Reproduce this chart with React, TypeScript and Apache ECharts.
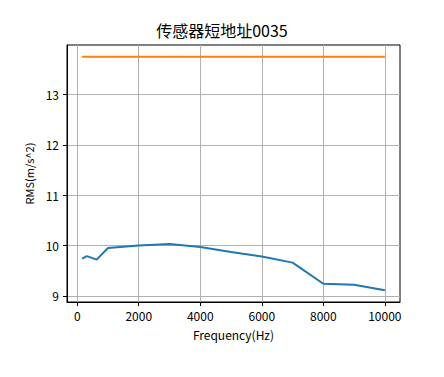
import React, { useEffect, useRef } from "react";
import * as echarts from "echarts";

const titleText = "传感器短地址0035";
const xAxisName = "Frequency(Hz)";
const yAxisName = "RMS(m/s^2)";

const frequencies = [160, 315, 630, 1000, 2000, 3000, 4000, 5000, 6000, 7000, 8000, 9000, 10000];
const rmsValues = [9.74, 9.79, 9.72, 9.95, 10.0, 10.03, 9.97, 9.87, 9.78, 9.66, 9.24, 9.22, 9.11];
const limitValues = [13.75, 13.75, 13.75, 13.75, 13.75, 13.75, 13.75, 13.75, 13.75, 13.75, 13.75, 13.75, 13.75];

const xTicks = [0, 2000, 4000, 6000, 8000, 10000];
const yTicks = [9, 10, 11, 12, 13];

const FONT = "'Noto Sans CJK SC', sans-serif";

export default function App() {
  const ref = useRef<HTMLDivElement>(null);

  useEffect(() => {
    if (!ref.current) return;
    const chart = echarts.init(ref.current, undefined, { renderer: "svg" });

    const xmin = -332;
    const xmax = 10492;
    const ymin = 8.878;
    const ymax = 13.982;

    chart.setOption({
      animation: false,
      backgroundColor: "#ffffff",
      title: {
        text: titleText,
        left: "center",
        top: 22,
        padding: 0,
        textStyle: { fontFamily: FONT, fontSize: 16, fontWeight: "normal", color: "#000" },
      },
      grid: {
        left: 67,
        right: 44,
        top: 45,
        bottom: 75,
        show: true,
        borderColor: "#000",
        borderWidth: 1,
        backgroundColor: "transparent",
      },
      xAxis: {
        type: "value",
        min: xmin,
        max: xmax,
        name: xAxisName,
        nameLocation: "middle",
        nameGap: 26,
        nameTextStyle: { fontFamily: FONT, fontSize: 12, color: "#000" },
        axisLine: { show: true, onZero: false, lineStyle: { color: "#000", width: 1 } },
        axisTick: { show: true, inside: false, length: 4, customValues: xTicks, lineStyle: { color: "#000" } },
        axisLabel: {
          fontFamily: FONT,
          fontSize: 12,
          color: "#000",
          margin: 7,
          customValues: xTicks,
          formatter: (v: number) => String(Math.round(v)),
        },
        splitLine: { show: true, lineStyle: { color: "#b0b0b0", width: 1 } },
      },
      yAxis: {
        type: "value",
        min: ymin,
        max: ymax,
        name: yAxisName,
        nameLocation: "middle",
        nameGap: 29,
        nameTextStyle: { fontFamily: FONT, fontSize: 11, color: "#000" },
        axisLine: { show: true, onZero: false, lineStyle: { color: "#000", width: 1 } },
        axisTick: { show: true, inside: false, length: 4, customValues: yTicks, lineStyle: { color: "#000" } },
        axisLabel: {
          fontFamily: FONT,
          fontSize: 12,
          color: "#000",
          margin: 8,
          customValues: yTicks,
          formatter: (v: number) => String(Math.round(v)),
        },
        splitLine: { show: true, lineStyle: { color: "#b0b0b0", width: 1 } },
      },
      series: [
        {
          type: "line",
          data: frequencies.map((f, i) => [f, rmsValues[i]]),
          showSymbol: false,
          symbol: "none",
          lineStyle: { color: "#1f77b4", width: 2 },
          itemStyle: { color: "#1f77b4" },
        },
        {
          type: "line",
          data: frequencies.map((f, i) => [f, limitValues[i]]),
          showSymbol: false,
          symbol: "none",
          lineStyle: { color: "#ff7f0e", width: 2 },
          itemStyle: { color: "#ff7f0e" },
        },
      ],
    });

    return () => chart.dispose();
  }, []);

  return (
    <div
      ref={ref}
      style={{ position: "fixed", left: 0, top: 0, width: 444, height: 377, background: "#fff" }}
    />
  );
}
